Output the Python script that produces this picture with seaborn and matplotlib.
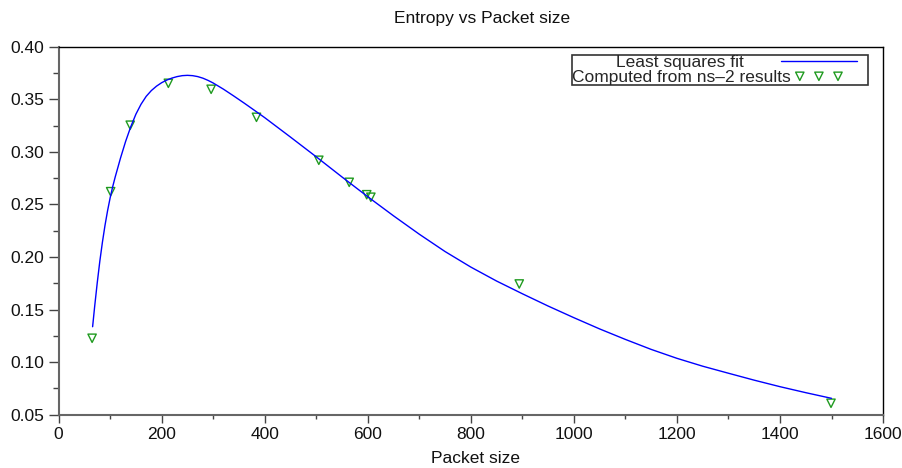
import matplotlib
matplotlib.use("Agg")
import matplotlib.pyplot as plt
import pandas as pd
import seaborn as sns
from matplotlib.ticker import MultipleLocator, FormatStrFormatter
from matplotlib.legend_handler import HandlerPathCollection
from matplotlib.offsetbox import DrawingArea, HPacker

# Entropy measured from the ns-2 simulation runs, per packet size
packet_sizes = [65, 101, 139, 213, 296, 384, 505, 564, 598, 606, 894, 1499]
entropy = [0.1226, 0.2622, 0.3255, 0.3654, 0.3597, 0.3330, 0.2921,
           0.2711, 0.2593, 0.2569, 0.1743, 0.0607]

# Least squares fit curve, sampled along packet size
fit_sizes = [66, 70, 75, 80, 85, 90, 95, 100, 105, 110, 115, 120, 130, 140,
             150, 160, 170, 180, 190, 200, 210, 220, 230, 240, 250, 260, 270,
             280, 290, 300, 320, 340, 360, 380, 400, 450, 500, 550, 600, 650,
             700, 750, 800, 850, 900, 950, 1000, 1050, 1100, 1150, 1200, 1250,
             1300, 1350, 1400, 1450, 1500]
fit_entropy = [0.1336, 0.1530, 0.1755, 0.1960, 0.2140, 0.2300, 0.2440, 0.2563,
               0.2670, 0.2765, 0.2852, 0.2940, 0.3100, 0.3240, 0.3360, 0.3455,
               0.3530, 0.3585, 0.3627, 0.3660, 0.3685, 0.3704, 0.3718, 0.3727,
               0.3730, 0.3727, 0.3718, 0.3703, 0.3682, 0.3657, 0.3598, 0.3533,
               0.3466, 0.3397, 0.3327, 0.3142, 0.2954, 0.2762, 0.2574, 0.2392,
               0.2217, 0.2052, 0.1904, 0.1771, 0.1650, 0.1533, 0.1422, 0.1315,
               0.1215, 0.1120, 0.1035, 0.0960, 0.0893, 0.0827, 0.0765, 0.0708,
               0.0654]

fit_label = "Least squares fit"
points_label = "Computed from ns\u20132 results"

sns.set_style("ticks")
plt.rcParams["font.family"] = ["Liberation Sans", "DejaVu Sans"]
plt.rcParams["font.size"] = 12.5

fit_df = pd.DataFrame({"size": fit_sizes, "entropy": fit_entropy})
pts_df = pd.DataFrame({"size": packet_sizes, "entropy": entropy})

fig = plt.figure(figsize=(9.03, 4.68), dpi=100)
ax = fig.add_axes([0.0649, 0.1143, 0.9130, 0.7853])

sns.scatterplot(data=pts_df, x="size", y="entropy", ax=ax, marker="v",
                s=36, facecolor="none", edgecolor="#1f9a1f", linewidth=1.0,
                label=points_label, zorder=2)
sns.lineplot(data=fit_df, x="size", y="entropy", ax=ax, color="#0000ff",
             linewidth=1.0, sort=False, label=fit_label, zorder=3)

ax.set_xlim(0, 1600)
ax.set_ylim(0.05, 0.40)
ax.xaxis.set_major_locator(MultipleLocator(200))
ax.xaxis.set_minor_locator(MultipleLocator(100))
ax.yaxis.set_major_locator(MultipleLocator(0.05))
ax.yaxis.set_minor_locator(MultipleLocator(0.025))
ax.yaxis.set_major_formatter(FormatStrFormatter("%.2f"))

ax.tick_params(axis="x", which="major", length=6, width=1.0, color="#444444",
               pad=3, labelsize=12.5, labelcolor="#111111")
ax.tick_params(axis="x", which="minor", length=3, width=1.0, color="#444444")
ax.tick_params(axis="y", which="major", length=7.5, width=1.0, color="#444444",
               pad=3, labelsize=12.5, labelcolor="#111111")
ax.tick_params(axis="y", which="minor", length=4.5, width=1.0, color="#444444")

for side in ("left", "bottom"):
    ax.spines[side].set_color("#666666")
    ax.spines[side].set_linewidth(1.5)
for side in ("top", "right"):
    ax.spines[side].set_visible(True)
    ax.spines[side].set_color("#000000")
    ax.spines[side].set_linewidth(1.0)

ax.set_title("Entropy vs Packet size", fontsize=12.5, pad=17, x=0.514,
             color="#111111")
ax.set_xlabel("Packet size", fontsize=12.5, color="#111111")
ax.xaxis.set_label_coords(0.506, -0.100)
ax.set_ylabel("")

handles, labels = ax.get_legend_handles_labels()
order = [labels.index(fit_label), labels.index(points_label)]
leg = ax.legend([handles[i] for i in order], [labels[i] for i in order],
                loc="upper right", bbox_to_anchor=(0.982, 0.978),
                borderaxespad=0, markerfirst=False, fontsize=12.5,
                labelspacing=0.0, borderpad=0.0, handlelength=4.4,
                handletextpad=0.5, scatterpoints=3, scatteryoffsets=[0.5],
                fancybox=False, framealpha=1.0, edgecolor="#333333",
                handler_map={type(handles[labels.index(points_label)]):
                             HandlerPathCollection(marker_pad=1.1)})
leg.get_frame().set_linewidth(1.2)

# Per-row gap between label and key (the fit label sits further left of its
# line, the data label runs up to its markers), plus a blank strip on the
# right so the keys stop short of the frame.
rows = leg._legend_handle_box.get_children()[0].get_children()
for row, gap in zip(rows, (26.5, -7.0)):
    text_box, key_box = row.get_children()
    row._children = [HPacker(pad=0, sep=gap, align="baseline",
                             children=[text_box, key_box]),
                     DrawingArea(8, 1)]
    row.sep = 0

fig.savefig("out.png", dpi=100, facecolor="white")
